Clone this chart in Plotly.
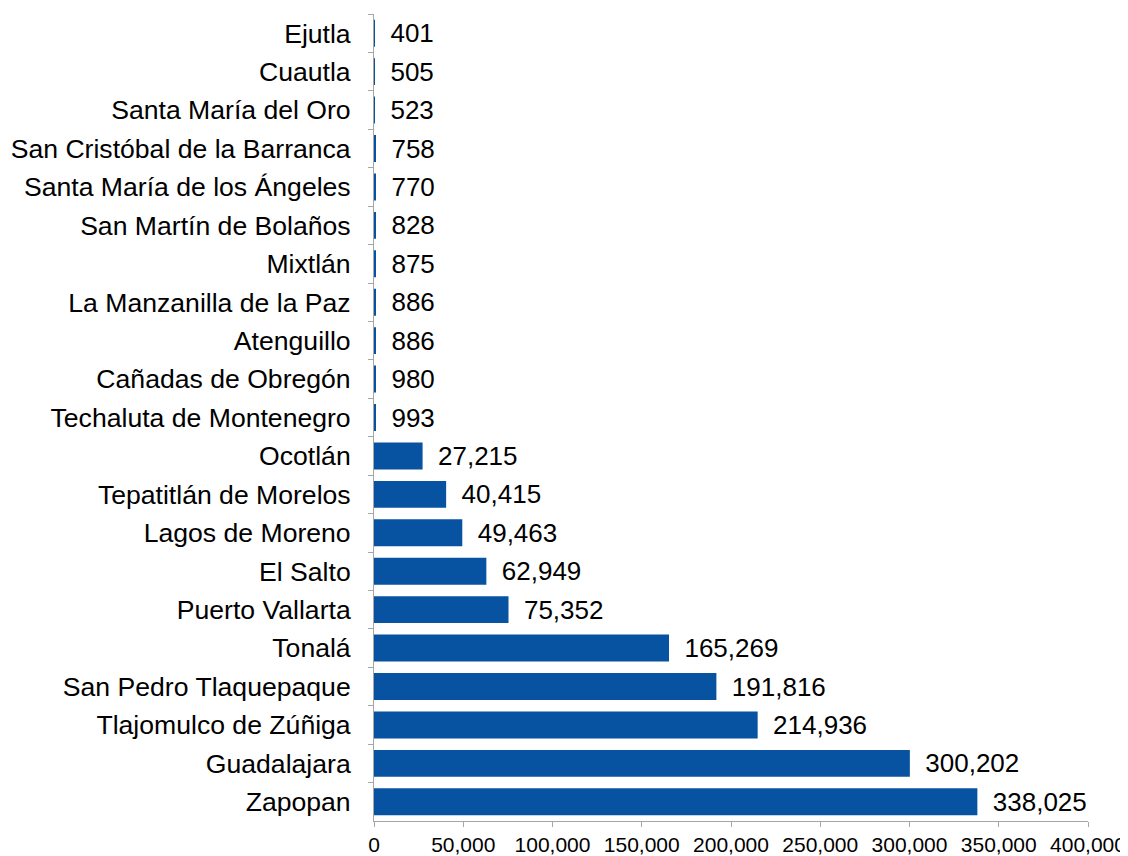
import plotly.graph_objects as go

municipios = [
    "Ejutla", "Cuautla", "Santa María del Oro", "San Cristóbal de la Barranca",
    "Santa María de los Ángeles", "San Martín de Bolaños", "Mixtlán",
    "La Manzanilla de la Paz", "Atenguillo", "Cañadas de Obregón",
    "Techaluta de Montenegro", "Ocotlán", "Tepatitlán de Morelos",
    "Lagos de Moreno", "El Salto", "Puerto Vallarta", "Tonalá",
    "San Pedro Tlaquepaque", "Tlajomulco de Zúñiga", "Guadalajara", "Zapopan",
]
valores = [
    401, 505, 523, 758, 770, 828, 875, 886, 886, 980, 993,
    27215, 40415, 49463, 62949, 75352, 165269, 191816, 214936, 300202, 338025,
]
x_ticks = [0, 50000, 100000, 150000, 200000, 250000, 300000, 350000, 400000]

labels = ["\u00a0\u2009" + f"{v:,}" for v in valores]

FONT = "Liberation Sans, Arial, sans-serif"

fig = go.Figure(go.Bar(
    x=valores, y=municipios, orientation="h",
    marker=dict(color="#0753A1", line=dict(width=0), opacity=0.999),
    text=labels, textposition="outside", cliponaxis=False, constraintext="none",
    textfont=dict(family=FONT, size=26, color="#000000"),
    hoverinfo="skip",
))

# the page body has an 8px margin, so the figure is offset by (8, 8)
fig.update_layout(
    width=1128, height=856,
    margin=dict(l=366, r=48, t=6, b=43, autoexpand=False),
    paper_bgcolor="white", plot_bgcolor="white",
    bargap=0.3,
    showlegend=False,
    font=dict(family=FONT, size=26, color="#000000"),
)
fig.update_xaxes(
    range=[0, 400000], tickvals=x_ticks, tickformat=",",
    showgrid=False, zeroline=False, automargin=False,
    showline=True, linecolor="#A6A6A6", linewidth=1,
    ticks="outside", ticklen=5, tickcolor="#A6A6A6",
    tickfont=dict(size=21),
)
fig.update_yaxes(
    autorange="reversed", type="category",
    showgrid=False, zeroline=False, automargin=False,
    showline=True, linecolor="#A6A6A6", linewidth=1,
    ticks="outside", ticklen=5, tickcolor="#A6A6A6", tickson="boundaries",
    ticklabelstandoff=17,
    tickfont=dict(size=26.6),
)

fig.write_html("out.html")
